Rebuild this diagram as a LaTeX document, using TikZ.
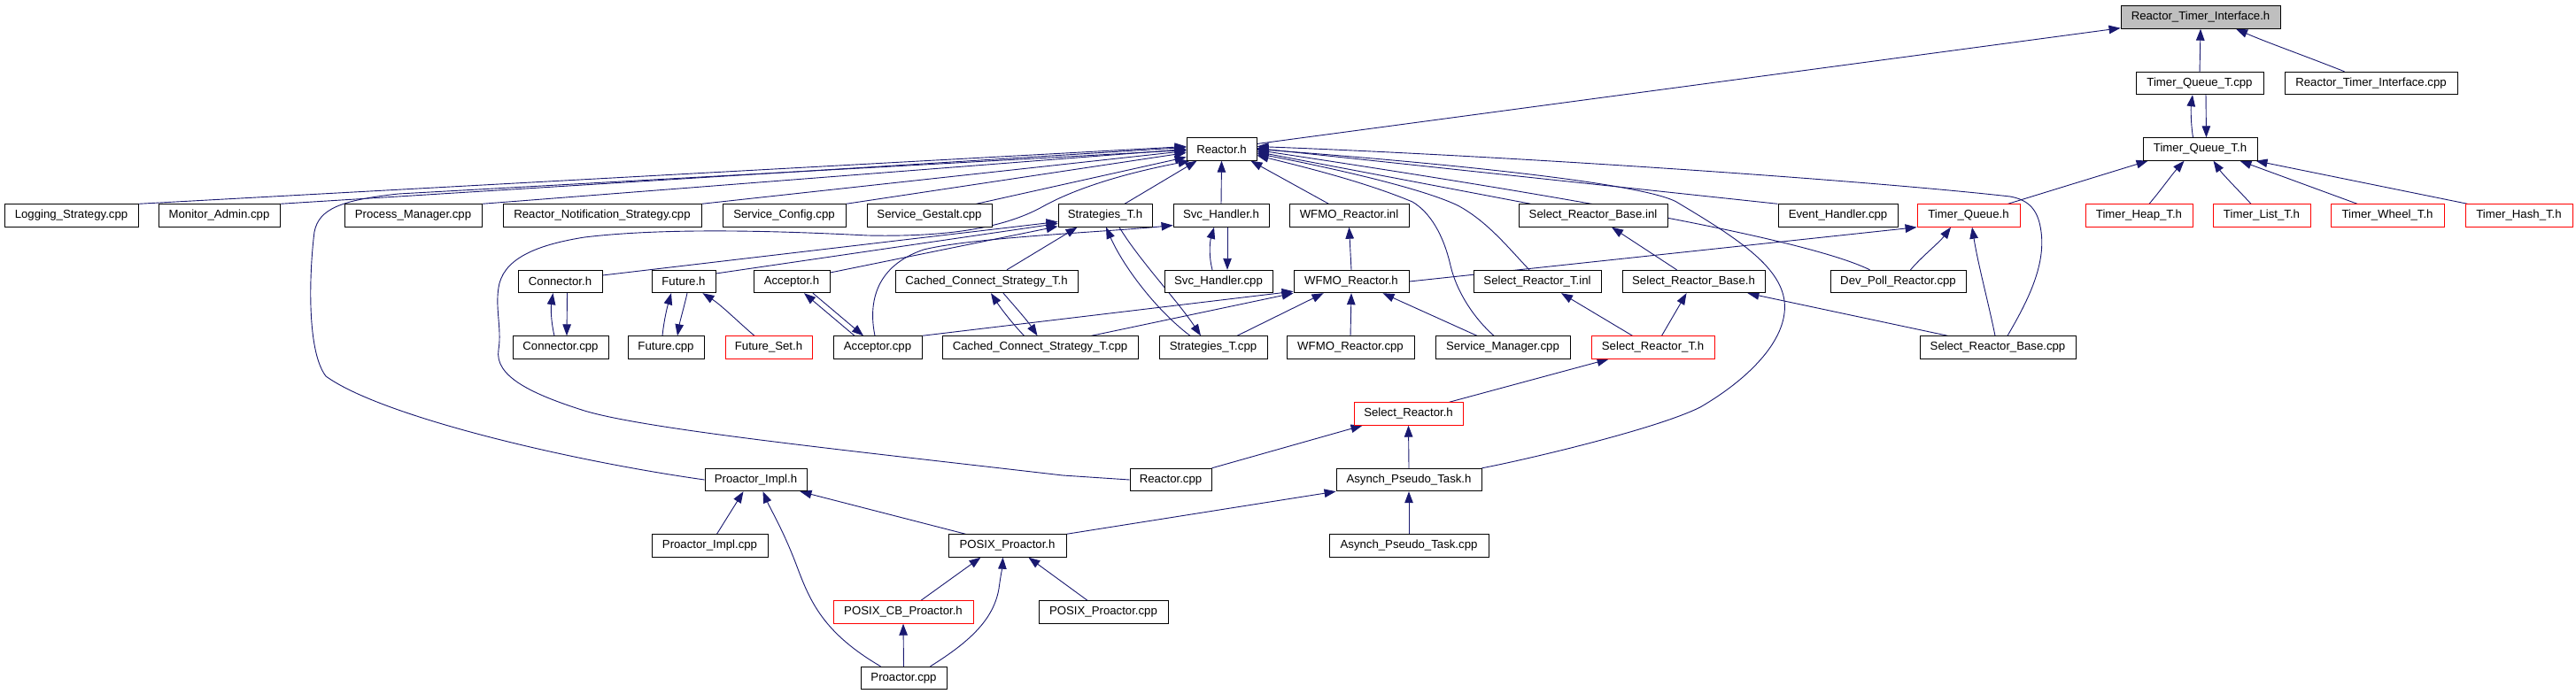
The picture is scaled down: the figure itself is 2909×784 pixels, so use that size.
\documentclass[tikz,border=0pt]{standalone}
\usepackage{fontspec}
\setmainfont{Liberation Sans}
\usetikzlibrary{arrows.meta,calc,backgrounds}
\definecolor{edgeblue}{HTML}{191970}
\definecolor{nodegray}{HTML}{BFBFBF}
\begin{document}
\begin{tikzpicture}[x=1pt,y=-1pt,
 box/.style={draw=black,line width=0.9pt,fill=white,inner sep=0pt,minimum height=25.5pt,font=\fontsize{13.2}{15}\selectfont},
 redbox/.style={box,draw=red},
 graybox/.style={box,fill=nodegray},
 edge/.style={draw=edgeblue,line width=0.9pt,-{Triangle[length=13pt,width=9.5pt]}}]
\useasboundingbox (0,0) rectangle (2909,784);
% row 0
\node[graybox,minimum width=180pt] (rti) at (2485,19.5) {Reactor\_Timer\_Interface.h};
% row 1
\node[box,minimum width=144pt] (tqtcpp) at (2484,94) {Timer\_Queue\_T.cpp};
\node[box,minimum width=195pt] (rticpp) at (2677.5,94) {Reactor\_Timer\_Interface.cpp};
% row 2
\node[box,minimum width=79pt] (reactorh) at (1379.5,168.5) {Reactor.h};
\node[box,minimum width=129pt] (tqth) at (2484.5,168.5) {Timer\_Queue\_T.h};
% row 3
\node[box,minimum width=151pt] (ls) at (80.5,243.5) {Logging\_Strategy.cpp};
\node[box,minimum width=137pt] (ma) at (247.5,243.5) {Monitor\_Admin.cpp};
\node[box,minimum width=155pt] (pm) at (466.5,243.5) {Process\_Manager.cpp};
\node[box,minimum width=224pt] (rns) at (680,243.5) {Reactor\_Notification\_Strategy.cpp};
\node[box,minimum width=139pt] (sc) at (885.5,243.5) {Service\_Config.cpp};
\node[box,minimum width=141pt] (sg) at (1049.5,243.5) {Service\_Gestalt.cpp};
\node[box,minimum width=106pt] (sth) at (1248,243.5) {Strategies\_T.h};
\node[box,minimum width=108pt] (svch) at (1379,243.5) {Svc\_Handler.h};
\node[box,minimum width=135pt] (wfmoinl) at (1523.5,243.5) {WFMO\_Reactor.inl};
\node[box,minimum width=168pt] (srbinl) at (1799,243.5) {Select\_Reactor\_Base.inl};
\node[box,minimum width=135pt] (ehcpp) at (2075.5,243.5) {Event\_Handler.cpp};
\node[redbox,minimum width=116pt] (tqh) at (2223,243.5) {Timer\_Queue.h};
\node[redbox,minimum width=121pt] (theap) at (2415.5,243.5) {Timer\_Heap\_T.h};
\node[redbox,minimum width=110pt] (tlist) at (2554,243.5) {Timer\_List\_T.h};
\node[redbox,minimum width=128pt] (twheel) at (2696,243.5) {Timer\_Wheel\_T.h};
\node[redbox,minimum width=121pt] (thash) at (2844.5,243.5) {Timer\_Hash\_T.h};
% row 4
\node[box,minimum width=95pt] (connh) at (632.5,318) {Connector.h};
\node[box,minimum width=72pt] (futh) at (772,318) {Future.h};
\node[box,minimum width=86pt] (acch) at (894,318) {Acceptor.h};
\node[box,minimum width=206pt] (ccsh) at (1114,318) {Cached\_Connect\_Strategy\_T.h};
\node[box,minimum width=122pt] (svccpp) at (1376,318) {Svc\_Handler.cpp};
\node[box,minimum width=130pt] (wfmoh) at (1526,318) {WFMO\_Reactor.h};
\node[box,minimum width=144pt] (srtinl) at (1736,318) {Select\_Reactor\_T.inl};
\node[box,minimum width=161pt] (srbh) at (1912.5,318) {Select\_Reactor\_Base.h};
\node[box,minimum width=153pt] (dpr) at (2143.5,318) {Dev\_Poll\_Reactor.cpp};
% row 5
\node[box,minimum width=108pt] (conncpp) at (633,392.5) {Connector.cpp};
\node[box,minimum width=86pt] (futcpp) at (752,392.5) {Future.cpp};
\node[redbox,minimum width=98pt] (futset) at (868,392.5) {Future\_Set.h};
\node[box,minimum width=100pt] (acccpp) at (991,392.5) {Acceptor.cpp};
\node[box,minimum width=221pt] (ccscpp) at (1174.5,392.5) {Cached\_Connect\_Strategy\_T.cpp};
\node[box,minimum width=122pt] (stcpp) at (1370,392.5) {Strategies\_T.cpp};
\node[box,minimum width=144pt] (wfmocpp) at (1525,392.5) {WFMO\_Reactor.cpp};
\node[box,minimum width=152pt] (smcpp) at (1697,392.5) {Service\_Manager.cpp};
\node[redbox,minimum width=139pt] (srth) at (1866.5,392.5) {Select\_Reactor\_T.h};
\node[box,minimum width=176pt] (srbcpp) at (2256,392.5) {Select\_Reactor\_Base.cpp};
% row 6
\node[redbox,minimum width=123pt] (srh) at (1590.5,467.5) {Select\_Reactor.h};
% row 7
\node[box,minimum width=115pt] (pih) at (853.5,542) {Proactor\_Impl.h};
\node[box,minimum width=92pt] (rcpp) at (1322,542) {Reactor.cpp};
\node[box,minimum width=164pt] (apth) at (1591,542) {Asynch\_Pseudo\_Task.h};
% row 8
\node[box,minimum width=131pt] (picpp) at (801.5,616.5) {Proactor\_Impl.cpp};
\node[box,minimum width=133pt] (pph) at (1137.5,616.5) {POSIX\_Proactor.h};
\node[box,minimum width=180pt] (aptcpp) at (1591,616.5) {Asynch\_Pseudo\_Task.cpp};
% row 9
\node[redbox,minimum width=158pt] (pcbh) at (1020,691.5) {POSIX\_CB\_Proactor.h};
\node[box,minimum width=146pt] (ppcpp) at (1246,691.5) {POSIX\_Proactor.cpp};
% row 10
\node[box,minimum width=97pt] (pcpp) at (1020.5,766) {Proactor.cpp};

\begin{pgfonlayer}{background}
\fill[white] (0,0) rectangle (2909,784);
% into Reactor.h from the left
\draw[edge] (ls.north east) -- ($(reactorh.west)+(0,-3)$);
\draw[edge] (ma.north east) -- ($(reactorh.west)+(0,-2)$);
\draw[edge] (pm.north east) -- ($(reactorh.west)+(0,0)$);
\draw[edge] (rns.north east) -- ($(reactorh.west)+(0,2)$);
\draw[edge] (sc.north east) -- ($(reactorh.west)+(0,4)$);
\draw[edge] ($(sg.north)+(53,0)$) -- ($(reactorh.west)+(0,9)$);
\draw[edge] (pih.west) .. controls (640,520) and (430,470) .. (368,425)
  .. controls (345,395) and (350,300) .. (355,262)
  .. controls (360,236) and (385,226) .. (450,219)
  -- ($(reactorh.west)+(0,1)$);
\draw[edge] (rcpp.west) -- (1200,537) .. controls (950,508) and (730,485) .. (660,464)
  .. controls (600,445) and (558,425) .. (563,395)
  .. controls (567,370) and (558,345) .. (564,320)
  .. controls (572,290) and (610,276) .. (660,268)
  .. controls (760,256) and (900,262) .. (980,266)
  .. controls (1080,268) and (1140,255) .. (1180,232)
  .. controls (1230,205) and (1300,190) .. ($(reactorh.south west)+(4,0)$);
\draw[edge] ($(sth.north)+(22,0)$) -- ($(reactorh.south west)+(12,0)$);
\draw[edge] (svch.north) -- (reactorh.south);
% into Reactor.h from the right
\draw[edge] ($(wfmoinl.north)+(-23,0)$) -- ($(reactorh.south east)+(-7,0)$);
\draw[edge] ($(srbinl.north west)+(14,0)$) -- ($(reactorh.east)+(0,3)$);
\draw[edge] ($(srtinl.north)+(-9,0)$) .. controls (1705,282) and (1680,250) .. (1646,232)
  .. controls (1600,210) and (1480,185) .. ($(reactorh.east)+(0,5)$);
\draw[edge] ($(smcpp.north)+(-10,0)$) .. controls (1665,360) and (1645,330) .. (1638,300)
  .. controls (1630,265) and (1615,240) .. (1595,228)
  .. controls (1540,205) and (1470,188) .. ($(reactorh.east)+(0,7)$);
\draw[edge] (ehcpp.north west) -- ($(reactorh.east)+(0,-1)$);
\draw[edge] ($(dpr.north west)+(45,0)$) .. controls (2030,265) and (1700,212) .. ($(reactorh.east)+(0,1)$);
\draw[edge] (apth.north east) .. controls (1720,520) and (1870,485) .. (1920,460)
  .. controls (1980,425) and (2020,380) .. (2015,340)
  .. controls (2010,300) and (1960,268) .. (1893,228)
  .. controls (1850,205) and (1600,182) .. ($(reactorh.east)+(0,0)$);
\draw[edge] ($(srbcpp.north)+(11,0)$) .. controls (2290,340) and (2310,300) .. (2305,262)
  .. controls (2302,238) and (2292,226) .. (2270,222)
  .. controls (2100,203) and (1700,176) .. ($(reactorh.east)+(0,-3)$);
% Reactor.h -> Reactor_Timer_Interface.h
\draw[edge] ($(reactorh.east)+(0,-6)$) -- ($(rti.south west)+(0,-1)$);
\draw[edge] (tqtcpp.north) -- (rti.south);
\draw[edge] ($(rticpp.north)+(-30,0)$) .. controls (2600,62) and (2560,48) .. ($(rti.south)+(40,0)$);
% Timer queue
\draw[edge] ($(tqth.north)+(-8,0)$) .. controls (2474,140) and (2474,122) .. ($(tqtcpp.south)+(-8,0)$);
\draw[edge] ($(tqtcpp.south)+(7,0)$) -- ($(tqth.north)+(7,0)$);
\draw[edge] ($(tqh.north east)+(-14,0)$) -- ($(tqth.south west)+(6,0)$);
\draw[edge] ($(theap.north)+(11.5,0)$) .. controls (2440,215) and (2452,198) .. ($(tqth.south)+(-18,0)$);
\draw[edge] ($(tlist.north)+(-12,0)$) .. controls (2525,212) and (2510,197) .. ($(tqth.south)+(15,0)$);
\draw[edge] ($(twheel.north)+(-34,0)$) -- ($(tqth.south)+(45,0)$);
\draw[edge] ($(thash.north west)+(3,0)$) -- ($(tqth.south east)+(-2,0)$);
\draw[edge] (wfmoh.east) -- (tqh.south west);
\draw[edge] ($(srbcpp.north)+(-3,0)$) .. controls (2245,340) and (2234,300) .. ($(tqh.south)+(4,0)$);
\draw[edge] ($(dpr.north)+(14,0)$) .. controls (2170,290) and (2190,274) .. ($(tqh.south)+(-20,0)$);
% Strategies / Svc_Handler
\draw[edge] ($(svccpp.north)+(-7,0)$) .. controls (1365,290) and (1366,274) .. ($(svch.south)+(-8,0)$);
\draw[edge] ($(svch.south)+(7,0)$) -- ($(svccpp.north)+(10,0)$);
\draw[edge] ($(ccsh.north)+(23,0)$) -- ($(sth.south west)+(22,0)$);
\draw[edge] ($(ccscpp.north)+(-18,0)$) .. controls (1140,362) and (1128,345) .. ($(ccsh.south)+(5,0)$);
\draw[edge] ($(ccsh.south)+(19,0)$) .. controls (1145,345) and (1160,362) .. ($(ccscpp.north)+(-3,0)$);
\draw[edge] ($(stcpp.north)+(-26,0)$) .. controls (1305,350) and (1268,300) .. ($(sth.south)+(1,0)$);
\draw[edge] ($(sth.south)+(16,0)$) .. controls (1285,292) and (1330,340) .. ($(stcpp.north)+(-14,0)$);
\draw[edge] ($(connh.east)+(0,-7)$) -- ($(sth.west)+(0,7)$);
\draw[edge] ($(futh.east)+(0,-9)$) -- ($(sth.west)+(0,9)$);
\draw[edge] ($(acch.east)+(0,-10)$) -- ($(sth.south west)+(0,-1)$);
\draw[edge] ($(acccpp.north)+(-3,0)$) .. controls (980,340) and (990,300) .. (1043,282)
  .. controls (1100,268) and (1250,262) .. ($(svch.west)+(0,11)$);
% WFMO
\draw[edge] ($(stcpp.north)+(27,0)$) -- ($(wfmoh.south west)+(34,0)$);
\draw[edge] ($(ccscpp.north)+(58,0)$) -- (wfmoh.south west);
\draw[edge] (acccpp.north east) -- ($(wfmoh.south west)+(0,-2)$);
\draw[edge] (wfmocpp.north) -- (wfmoh.south);
\draw[edge] ($(smcpp.north)+(-29,0)$) -- ($(wfmoh.south east)+(-30,0)$);
\draw[edge] (wfmoh.north) -- (wfmoinl.south);
% Select reactor
\draw[edge] ($(srbh.north)+(-19,0)$) -- ($(srbinl.south)+(21,0)$);
\draw[edge] ($(srth.north)+(-23,0)$) -- ($(srtinl.south)+(27,0)$);
\draw[edge] ($(srth.north)+(10,0)$) -- ($(srbh.south)+(-8,0)$);
\draw[edge] ($(srbcpp.north west)+(32,0)$) -- ($(srbh.south east)+(-20,0)$);
\draw[edge] ($(srh.north east)+(-16,0)$) -- ($(srth.south west)+(20,0)$);
\draw[edge] (rcpp.north east) -- ($(srh.south west)+(10,0)$);
\draw[edge] (apth.north) -- (srh.south);
\draw[edge] (aptcpp.north) -- (apth.south);
% Proactor
\draw[edge] (pph.north east) -- (apth.south west);
\draw[edge] ($(pph.north)+(-47,0)$) -- ($(pih.south east)+(-8,0)$);
\draw[edge] ($(picpp.north)+(8,0)$) -- ($(pih.south)+(-14,0)$);
\draw[edge] ($(pcpp.north)+(-26,0)$) .. controls (930,715) and (915,680) .. (900,640)
  .. controls (885,600) and (870,575) .. ($(pih.south)+(8,0)$);
\draw[edge] ($(pcbh.north)+(20,0)$) -- ($(pph.south)+(-30,0)$);
\draw[edge] (pcpp.north) -- (pcbh.south);
\draw[edge] ($(pcpp.north)+(30,0)$) .. controls (1095,725) and (1122,700) .. (1128,665)
  .. controls (1130,650) and (1132,640) .. ($(pph.south)+(-5,0)$);
\draw[edge] ($(ppcpp.north)+(-18,0)$) -- ($(pph.south east)+(-43,0)$);
% Connector / Future / Acceptor
\draw[edge] ($(conncpp.north)+(-7,0)$) .. controls (622,362) and (622,348) .. ($(connh.south)+(-8,0)$);
\draw[edge] ($(connh.south)+(8,0)$) -- ($(conncpp.north)+(7,0)$);
\draw[edge] ($(futcpp.north)+(-4,0)$) .. controls (750,360) and (754,345) .. ($(futh.south)+(-14,0)$);
\draw[edge] ($(futh.south)+(4,0)$) .. controls (773,345) and (768,362) .. ($(futcpp.north)+(13,0)$);
\draw[edge] ($(futset.north)+(-16,0)$) .. controls (835,365) and (815,345) .. ($(futh.south east)+(-15,0)$);
\draw[edge] ($(acccpp.north)+(-26,0)$) -- ($(acch.south)+(14,0)$);
\draw[edge] ($(acch.south)+(24,0)$) -- ($(acccpp.north)+(-16,0)$);
\end{pgfonlayer}
\end{tikzpicture}
\end{document}
